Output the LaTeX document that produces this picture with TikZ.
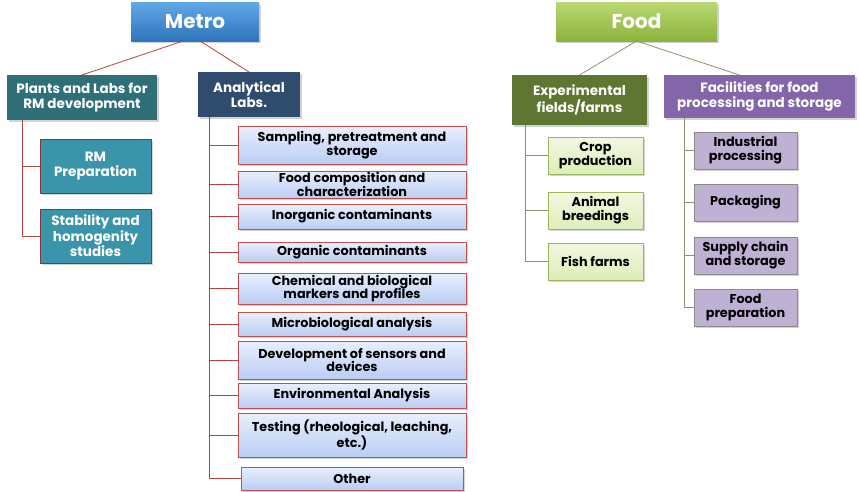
\documentclass[tikz,border=0pt]{standalone}
\usepackage{fontspec}
\setmainfont{Poppins}
\usetikzlibrary{shadows}
\definecolor{metroA}{HTML}{62A8E6}
\definecolor{metroB}{HTML}{2E74BC}
\definecolor{foodA}{HTML}{BAD874}
\definecolor{foodB}{HTML}{8CB33C}
\definecolor{plantsC}{HTML}{2F6F78}
\definecolor{analC}{HTML}{2F4B6E}
\definecolor{rmC}{HTML}{3A95AA}
\definecolor{expC}{HTML}{5F7532}
\definecolor{facC}{HTML}{8366AA}
\definecolor{labA}{HTML}{E9EFFD}
\definecolor{labB}{HTML}{BACDF3}
\definecolor{labBorder}{HTML}{C0504D}
\definecolor{redline}{HTML}{B2443F}
\definecolor{greenA}{HTML}{F1F8E2}
\definecolor{greenB}{HTML}{DDEDB8}
\definecolor{greenBorder}{HTML}{9BB55C}
\definecolor{lavC}{HTML}{BFB1D4}
\definecolor{grayBorder}{HTML}{8A8A8A}
\definecolor{oliveline}{HTML}{8E9270}
\tikzset{
  box/.style={rectangle, inner sep=0pt, outer sep=0pt, anchor=north west, align=center,
    font=\bfseries\fontsize{12.8}{13.8}\selectfont,
    drop shadow={opacity=0.35, shadow xshift=1.5pt, shadow yshift=-1.5pt}},
  topbox/.style={box, text=white, font=\bfseries\fontsize{20}{22}\selectfont},
  headbox/.style={box, text=white, font=\bfseries\fontsize{13.5}{15.5}\selectfont},
  labbox/.style={box, top color=labA, bottom color=labB, draw=labBorder, line width=0.7pt, text=black},
  rmbox/.style={box, fill=rmC, draw=labBorder!70!black, line width=0.7pt, text=white, font=\bfseries\fontsize{13.5}{15.5}\selectfont},
  greenbox/.style={box, top color=greenA, bottom color=greenB, draw=greenBorder, line width=0.7pt, text=black},
  lavbox/.style={box, fill=lavC, draw=grayBorder, line width=0.7pt, text=black},
  rline/.style={draw=redline, line width=0.8pt},
  gline/.style={draw=oliveline, line width=0.8pt},
}
\begin{document}
\begin{tikzpicture}[x=1pt,y=-1pt]
\useasboundingbox (0,0) rectangle (860,491);
% top boxes
\node[topbox, top color=metroA, bottom color=metroB, minimum width=128pt, minimum height=39pt] (metro) at (131,2) {Metro};
\node[topbox, top color=foodA, bottom color=foodB, minimum width=161pt, minimum height=39pt] (food) at (556,2) {Food};
% Metro heads
\node[headbox, fill=plantsC, minimum width=150pt, minimum height=45pt] (plants) at (7,75) {Plants and Labs for\\RM development};
\node[headbox, fill=analC, minimum width=102pt, minimum height=45pt] (anal) at (198,72) {Analytical\\Labs.};
% Food heads
\node[headbox, fill=expC, minimum width=135pt, minimum height=50pt] (exp) at (512,75) {Experimental\\fields/farms};
\node[headbox, fill=facC, minimum width=191pt, minimum height=43pt] (fac) at (664,75) {Facilities for food\\processing and storage};
% RM children
\node[rmbox, minimum width=111pt, minimum height=54pt] (rmprep) at (40,139) {RM\\Preparation};
\node[rmbox, minimum width=111pt, minimum height=54pt] (stab) at (40,209) {Stability and\\homogenity\\studies};
% Analytical children
\node[labbox, minimum width=228pt, minimum height=38pt] (samp) at (238,126) {Sampling, pretreatment and\\storage};
\node[labbox, minimum width=228pt, minimum height=27pt] (fcomp) at (238,171) {Food composition and\\characterization};
\node[labbox, minimum width=228pt, minimum height=25pt] (inorg) at (238,204) {Inorganic contaminants};
\node[labbox, minimum width=228pt, minimum height=20pt] (org) at (238,242) {Organic contaminants};
\node[labbox, minimum width=228pt, minimum height=31pt] (chem) at (238,273) {Chemical and biological\\markers and profiles};
\node[labbox, minimum width=228pt, minimum height=24pt] (micro) at (238,312) {Microbiological analysis};
\node[labbox, minimum width=228pt, minimum height=38pt] (dev) at (238,341) {Development of sensors and\\devices};
\node[labbox, minimum width=228pt, minimum height=25pt] (env) at (238,383) {Environmental Analysis};
\node[labbox, minimum width=228pt, minimum height=44pt] (test) at (238,413) {Testing (rheological, leaching,\\etc.)};
\node[labbox, minimum width=222pt, minimum height=23pt] (other) at (241,467) {Other};
% Food children
\node[greenbox, minimum width=95pt, minimum height=37pt] (crop) at (548,137) {Crop\\production};
\node[greenbox, minimum width=95pt, minimum height=37pt] (animal) at (548,192) {Animal\\breedings};
\node[greenbox, minimum width=95pt, minimum height=37pt] (fish) at (548,243) {Fish farms};
\node[lavbox, minimum width=103pt, minimum height=37pt] (indus) at (694,132) {Industrial\\processing};
\node[lavbox, minimum width=103pt, minimum height=37pt] (pack) at (694,184) {Packaging};
\node[lavbox, minimum width=103pt, minimum height=37pt] (supply) at (694,237) {Supply chain\\and storage};
\node[lavbox, minimum width=103pt, minimum height=37pt] (prep) at (694,289) {Food\\preparation};
% connectors Metro
\draw[rline] ([xshift=-12pt]metro.south) -- (plants.north);
\draw[rline] ([xshift=5pt]metro.south) -- (anal.north);
\draw[rline] ([xshift=15pt]plants.south west) |- (rmprep.west);
\draw[rline] ([xshift=15pt]plants.south west) |- (stab.west);
\foreach \n in {samp,fcomp,inorg,org,chem,micro,dev,env,test,other}
  \draw[rline] ([xshift=11pt]anal.south west) |- (\n.west);
% connectors Food
\draw[gline] (food.south) -- (exp.north);
\draw[gline] (food.south) -- ([xshift=-20pt]fac.north);
\foreach \n in {crop,animal,fish}
  \draw[gline] ([xshift=13pt]exp.south west) |- (\n.west);
\foreach \n in {indus,pack,supply,prep}
  \draw[gline] ([xshift=20pt]fac.south west) |- (\n.west);
\end{tikzpicture}
\end{document}
